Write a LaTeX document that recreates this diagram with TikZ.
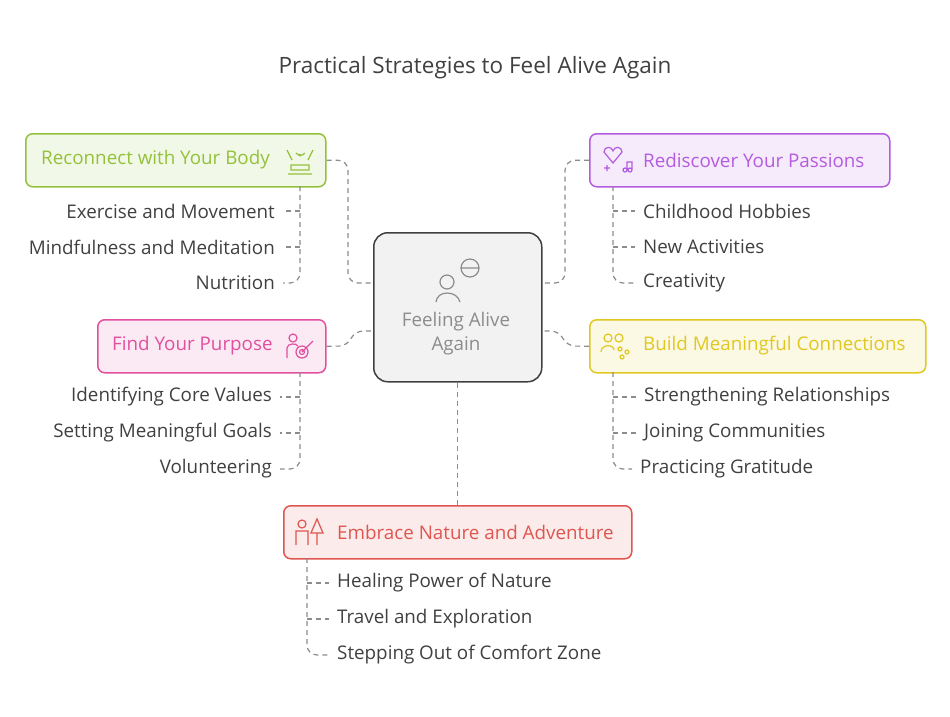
\documentclass[tikz,border=0pt]{standalone}
\usepackage{fontspec}
\setmainfont{Open Sans}
\begin{document}
\begin{tikzpicture}[x=1pt,y=-1pt,
 cat/.style={draw=#1,line width=1.5pt,rounded corners=7pt,fill=#1!12,minimum height=53pt,anchor=north west,inner sep=0pt},
 lbl/.style={font=\fontsize{18.8}{22}\selectfont,text=#1,inner sep=0pt},
 item/.style={font=\fontsize{18.8}{22}\selectfont,text=black!75,inner sep=0pt},
 dl/.style={draw=black!45,line width=1.2pt,dash pattern=on 5pt off 4pt,rounded corners=10pt},
 ic/.style={draw=#1,line width=1.2pt}]
\useasboundingbox (0,0) rectangle (950,716);
\definecolor{cg}{HTML}{93C23A}\definecolor{cp}{HTML}{B45BDF}\definecolor{cpk}{HTML}{E0509F}
\definecolor{cy}{HTML}{E0C820}\definecolor{cr}{HTML}{E05550}
\node[font=\fontsize{22.5}{26}\selectfont,text=black!75] (title) at (475,68) {Practical Strategies to Feel Alive Again};
% center
\node[draw=black!75,line width=1.5pt,fill=black!5,rounded corners=14pt,minimum width=168pt,minimum height=149pt,anchor=north west] (c) at (373,232) {};
\node[font=\fontsize{18.8}{24}\selectfont,text=black!45,align=center] (ct) at (456,334) {Feeling Alive\\Again};
\draw[ic=black!45] (447,282) circle (7) (436,302) .. controls (437,290) and (457,290) .. (460,302);
\draw[ic=black!45] (470,268) circle (9) (461,268) -- (479,268);
% boxes
\node[cat=cg,minimum width=300pt] (g) at (25,133) {};
\node[lbl=cg,anchor=west] (gt) at (41,160) {Reconnect with Your Body};
\draw[ic=cg] (288,174) -- (312,174) (291,170) rectangle (309,165) (287,150) -- (292,160) (313,150) -- (308,160) (296,153) arc (150:30:5) ;
\fill[cg] (300,155) circle (1.5);
\node[cat=cp,minimum width=300pt] (p) at (589,133) {};
\node[lbl=cp,anchor=west] (pt) at (643,160) {Rediscover Your Passions};
\draw[ic=cp] (604,152) .. controls (604,146) and (612,146) .. (613,151) .. controls (614,146) and (622,146) .. (622,152) -- (613,163) -- cycle;
\draw[ic=cp] (625,170) circle (2) (630,170) circle (2) (627,170) -- (627,162) -- (632,162) -- (632,170) (604,168) -- (610,168) (607,165) -- (607,171);
\node[cat=cpk,minimum width=228pt] (k) at (97,319) {};
\node[lbl=cpk,anchor=west] (kt) at (112,346) {Find Your Purpose};
\draw[ic=cpk] (293,338) circle (4) (287,358) -- (287,348) .. controls (287,343) and (297,343) .. (298,346) (302,352) circle (6) (302,352) circle (2.5) (302,352) -- (313,341);
\node[cat=cy,minimum width=336pt] (y) at (589,319) {};
\node[lbl=cy,anchor=west] (yt) at (643,346) {Build Meaningful Connections};
\draw[ic=cy] (608,338) circle (4) (619,338) circle (4) (601,352) .. controls (601,344) and (614,344) .. (614,350) (620,349) circle (2) (627,352) circle (2) (622,357) circle (2);
\node[cat=cr,minimum width=348pt] (r) at (283,505) {};
\node[lbl=cr,anchor=west] (rt) at (337,532) {Embrace Nature and Adventure};
\draw[ic=cr] (302,524) circle (4) (296,545) -- (296,531) -- (308,531) -- (308,545) (317,519) -- (311,533) -- (323,533) -- cycle (317,533) -- (317,545);
% children
\foreach \t [count=\i] in {Exercise and Movement,Mindfulness and Meditation,Nutrition}
  \node[item,anchor=east] (g\i) at (275,175+36*\i) {\t};
\foreach \t [count=\i] in {Childhood Hobbies,New Activities,Creativity}
  \node[item,anchor=west] (p\i) at (643,175+36*\i) {\t};
\foreach \t [count=\i] in {Identifying Core Values,Setting Meaningful Goals,Volunteering}
  \node[item,anchor=east] (k\i) at (272,361+36*\i) {\t};
\node[item,anchor=west] (y1) at (644,397) {Strengthening Relationships};
\node[item,anchor=west] (y2) at (644,433) {Joining Communities};
\node[item,anchor=west] (y3) at (640,469) {Practicing Gratitude};
\foreach \t [count=\i] in {Healing Power of Nature,Travel and Exploration,Stepping Out of Comfort Zone}
  \node[item,anchor=west] (r\i) at (337,547+36*\i) {\t};
% tree lines
\begin{scope}[shorten >=8pt]
\draw[dl] (300,186) |- (g3.east); \draw[dl] (300,211) -- (g1.east); \draw[dl] (300,247) -- (g2.east);
\draw[dl] (613,186) |- (p3.west); \draw[dl] (613,211) -- (p1.west); \draw[dl] (613,247) -- (p2.west);
\draw[dl] (300,372) |- (k3.east); \draw[dl] (300,397) -- (k1.east); \draw[dl] (300,433) -- (k2.east);
\draw[dl] (613,372) |- (y3.west); \draw[dl] (613,397) -- (y1.west); \draw[dl] (613,433) -- (y2.west);
\draw[dl] (307,558) |- (r3.west); \draw[dl] (307,583) -- (r1.west); \draw[dl] (307,619) -- (r2.west);
\end{scope}
% main connectors
\draw[dl] (g.east) -| (348,230) |- (373,283);
\draw[dl] (p.west) -| (565,230) |- (541,283);
\draw[dl,rounded corners=8pt] (k.east) -- (347,346) -- (355,331) -- (373,331);
\draw[dl,rounded corners=8pt] (y.west) -- (567,346) -- (559,331) -- (541,331);
\draw[dl] (c.south) -- (r.north);
\end{tikzpicture}
\end{document}
